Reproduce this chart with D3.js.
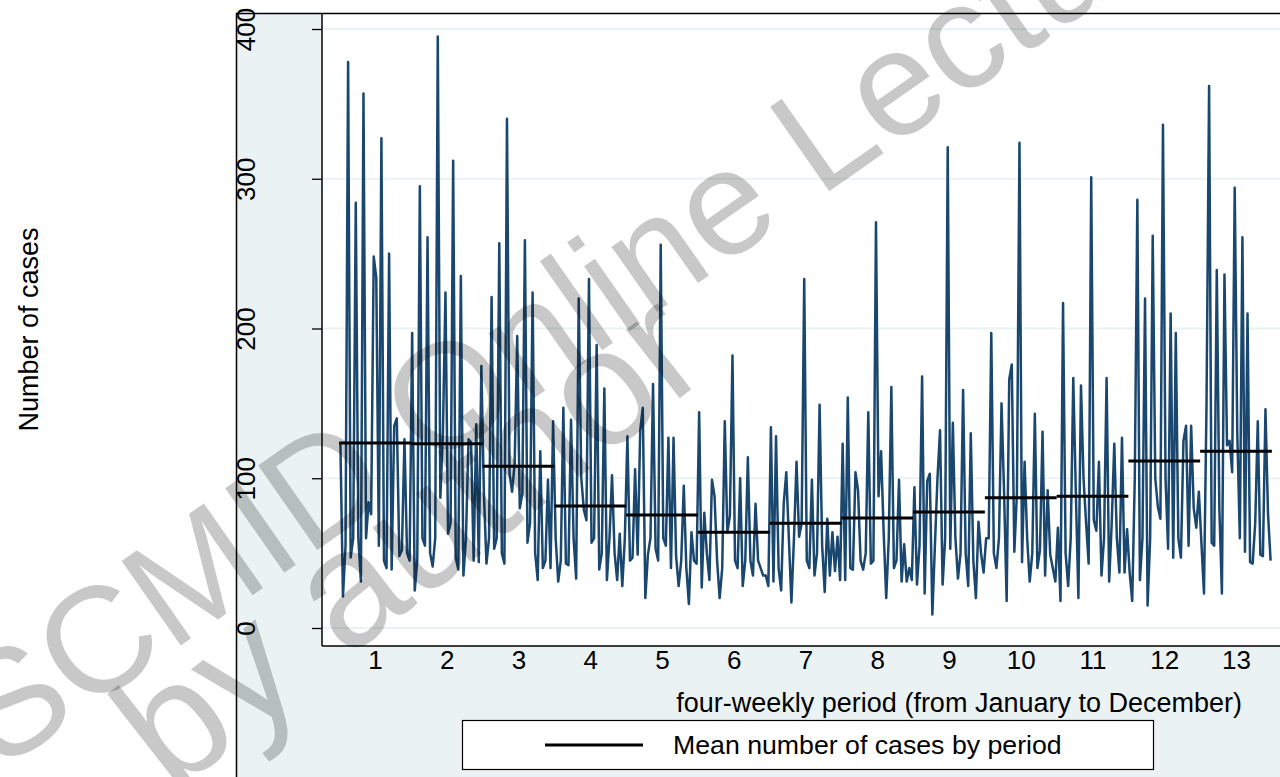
<!DOCTYPE html>
<html><head><meta charset="utf-8">
<script src="https://cdn.jsdelivr.net/npm/d3@7"></script>
<style>html,body{margin:0;padding:0;background:#fff;} svg{display:block;font-family:"Liberation Sans",Arial,Helvetica,sans-serif;}</style>
</head><body>
<svg id="chart" width="1280" height="777"></svg>
<script>
// ---------- data ----------
const periods = [1,2,3,4,5,6,7,8,9,10,11,12,13];
const yTicks = [0,100,200,300,400];
const periodMeans = [123.5,123,108,81.5,75.5,64,70,73.5,77.5,87,88,111.5,118];
// daily number of cases, 28 days per four-weekly period
const casesP1  = [123,21,55,378,47,60,284,60,31,357,60,84,76,248,234,55,327,45,40,250,39,135,140,48,52,126,50,45];
const casesP2  = [197,25,45,295,60,55,261,50,41,60,395,87,130,224,63,70,312,47,39,235,35,60,126,124,45,136,44,175];
const casesP3  = [90,43,60,221,53,60,257,50,43,340,103,91,110,195,80,90,259,57,70,224,50,32,118,40,45,99,40,138];
const casesP4  = [60,31,45,147,43,42,139,60,33,220,100,79,72,233,57,60,189,39,50,160,32,60,102,50,32,63,28,60];
const casesP5  = [128,45,47,106,49,132,147,20,49,60,163,53,45,256,60,55,127,40,127,48,28,45,95,40,16,64,45,43];
const casesP6  = [144,27,77,50,32,99,88,45,20,40,138,64,75,182,45,40,100,28,45,114,45,35,83,45,40,35,35,28];
const casesP7  = [134,31,128,40,25,83,104,60,17,60,111,61,70,233,45,40,99,35,50,149,55,24,73,35,64,38,61,32];
const casesP8  = [123,32,154,40,39,104,92,45,39,50,144,43,45,271,88,118,64,20,60,161,40,45,99,31,56,31,40,32];
const casesP9  = [94,29,55,168,23,98,103,9,55,100,132,29,60,321,53,137,60,33,50,159,50,28,130,45,20,71,50,37];
const casesP10 = [60,60,197,50,40,60,150,90,18,166,176,51,90,324,44,111,60,31,50,143,40,52,131,35,92,49,40,31];
const casesP11 = [67,18,217,50,28,60,167,90,20,162,100,70,43,301,72,65,111,35,60,167,31,70,123,60,37,127,37,66];
const casesP12 = [37,18,100,286,32,60,220,15,60,262,100,81,73,336,100,53,210,47,197,60,47,125,135,55,135,80,67,91];
const casesP13 = [57,23,150,362,57,55,239,80,23,236,122,125,104,294,130,60,261,51,210,44,43,70,138,49,48,146,76,45];
const daysPerPeriod = 28;
const xTitle = "four-weekly period (from January to December)";
const yTitle = "Number of cases";
const legendLabel = "Mean number of cases by period";
const watermark1 = "SCMID Online Lecture";
const watermark2 = "by author";

const dailyCases = [].concat(casesP1,casesP2,casesP3,casesP4,casesP5,casesP6,casesP7,
  casesP8,casesP9,casesP10,casesP11,casesP12,casesP13);

// ---------- layout ----------
const W = 1280, H = 777;
const outer = {x:236, y:13};
const plot = {left:322, top:13, right:1280, bottom:646};
const bg = "#eaf2f3", lineColor = "#1a476f";
const FONT = "Liberation Sans, Arial, sans-serif";

const svg = d3.select("#chart");
const x = d3.scaleLinear().domain([1,13]).range([375,1236]);
const y = d3.scaleLinear().domain([0,400]).range([628,29]);

svg.append("rect").attr("x",outer.x).attr("y",outer.y)
  .attr("width",W-outer.x).attr("height",H-outer.y).attr("fill",bg);
svg.append("rect").attr("x",plot.left).attr("y",plot.top)
  .attr("width",plot.right-plot.left).attr("height",plot.bottom-plot.top).attr("fill","#fff");

// gridlines
svg.append("g").selectAll("line").data(yTicks).join("line")
  .attr("x1",plot.left).attr("x2",plot.right)
  .attr("y1",d=>y(d)).attr("y2",d=>y(d))
  .attr("stroke",bg).attr("stroke-width",2);

// borders
svg.append("line").attr("x1",outer.x).attr("x2",W).attr("y1",outer.y+0.5).attr("y2",outer.y+0.5).attr("stroke","#000").attr("stroke-width",1.5);
svg.append("line").attr("x1",outer.x+0.5).attr("x2",outer.x+0.5).attr("y1",outer.y).attr("y2",H).attr("stroke","#000").attr("stroke-width",1.5);
svg.append("line").attr("x1",plot.left).attr("x2",plot.left).attr("y1",plot.top).attr("y2",plot.bottom).attr("stroke","#000").attr("stroke-width",1.5);
svg.append("line").attr("x1",plot.left).attr("x2",plot.right).attr("y1",plot.bottom).attr("y2",plot.bottom).attr("stroke","#000").attr("stroke-width",1.5);

// y axis
const yAxis = svg.append("g").attr("transform",`translate(${plot.left},0)`)
  .call(d3.axisLeft(y).tickValues(yTicks).tickSize(10).tickSizeOuter(0));
yAxis.select(".domain").remove();
yAxis.selectAll(".tick line").attr("stroke","#000").attr("stroke-width",1.3);
yAxis.selectAll(".tick text")
  .attr("x",null).attr("dy",null)
  .attr("transform","translate(-67,0) rotate(-90)")
  .attr("text-anchor","middle")
  .attr("fill","#000").style("font-size","26px").style("font-family",FONT);

// x axis
const xAxis = svg.append("g").attr("transform",`translate(0,${plot.bottom})`)
  .call(d3.axisBottom(x).tickValues(periods).tickSize(0).tickPadding(5).tickSizeOuter(0));
xAxis.select(".domain").remove();
xAxis.selectAll(".tick text").attr("fill","#000").style("font-size","26px").style("font-family",FONT);

// axis titles
svg.append("text").attr("transform",`translate(38,${(plot.top+plot.bottom)/2}) rotate(-90)`)
  .attr("text-anchor","middle").style("font-size","27px").text(yTitle);
svg.append("text").attr("x",1242).attr("y",712).attr("text-anchor","end")
  .style("font-size","27px").text(xTitle);

// daily series
const line = d3.line()
  .x((d,i)=>x(0.5 + (i+0.5)/daysPerPeriod))
  .y(d=>y(d));
svg.append("path").datum(dailyCases).attr("d",line)
  .attr("fill","none").attr("stroke",lineColor).attr("stroke-width",2.5).attr("stroke-linejoin","round");

// period means
svg.append("g").selectAll("line").data(periods).join("line")
  .attr("x1",p=>x(p-0.5)).attr("x2",p=>x(p+0.5))
  .attr("y1",(p,i)=>y(periodMeans[i])).attr("y2",(p,i)=>y(periodMeans[i]))
  .attr("stroke","#000").attr("stroke-width",3);

// legend
const lg = svg.append("g");
lg.append("rect").attr("x",462.5).attr("y",720.5).attr("width",691).attr("height",49)
  .attr("fill","#fff").attr("stroke","#000").attr("stroke-width",1.2);
lg.append("line").attr("x1",545).attr("x2",643).attr("y1",745).attr("y2",745)
  .attr("stroke","#000").attr("stroke-width",3);
lg.append("text").attr("x",673).attr("y",754).style("font-size","26.7px").text(legendLabel);

// watermark
svg.append("text").attr("transform","translate(0,772) rotate(-35)")
  .style("font-size","150px").attr("fill","#000").attr("opacity",0.21).text(watermark1);
svg.append("text").attr("transform","translate(172,795) rotate(-38)")
  .style("font-size","165px").attr("fill","#000").attr("opacity",0.21).text(watermark2);
</script>
</body></html>
